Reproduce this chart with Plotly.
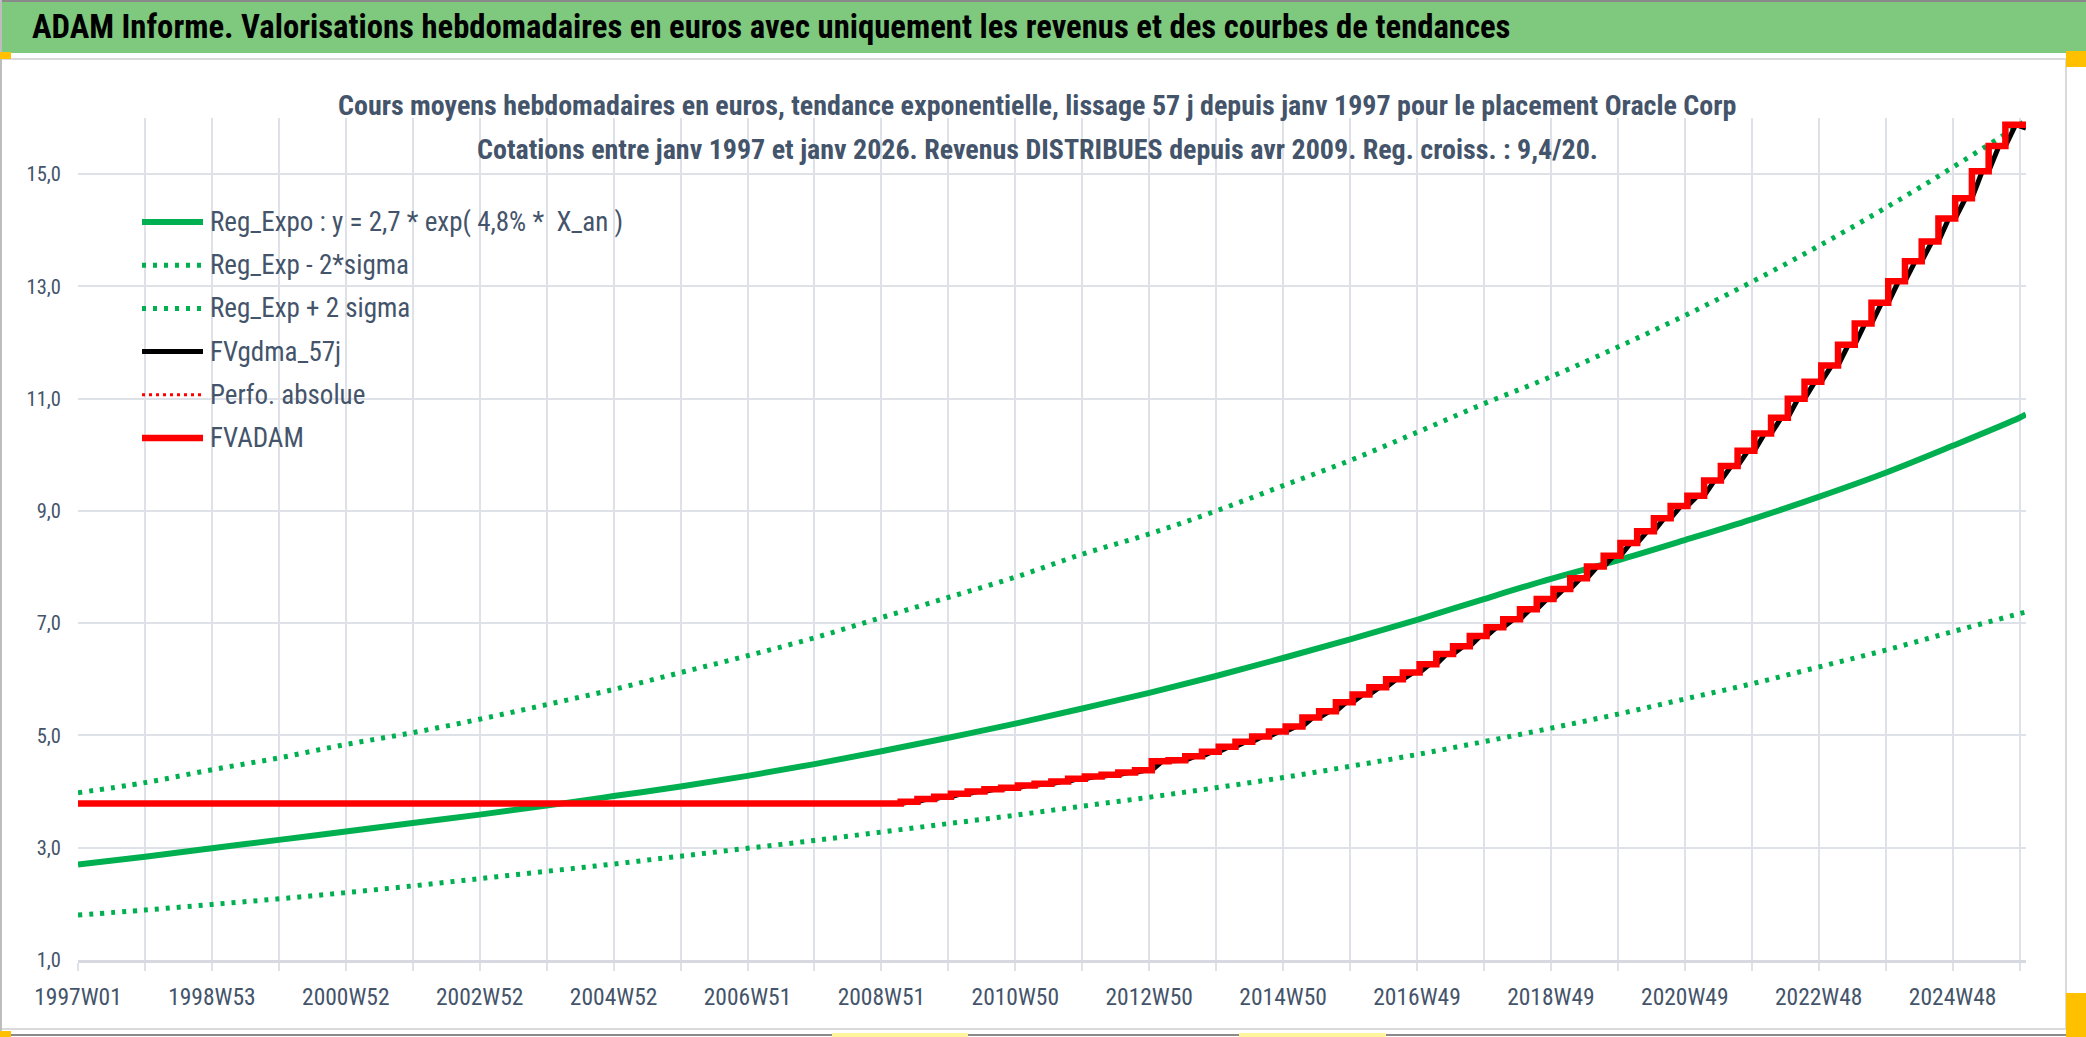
import pandas as pd
import plotly.graph_objects as go

# weekly category axis: ISO weeks from 1997W01 to 2026W01
N_WEEKS = 1514
FIRST_MONDAY = "1996-12-30"

TICK_LABELS = ["1997W01", "1998W53", "2000W52", "2002W52", "2004W52", "2006W51",
               "2008W51", "2010W50", "2012W50", "2014W50", "2016W49", "2018W49",
               "2020W49", "2022W48", "2024W48"]

# trend curves, read every 52 weeks (last value = final week)
REG_EXPO = [2.70, 2.84, 2.99, 3.14, 3.29, 3.44, 3.59, 3.75, 3.92, 4.09, 4.28,
            4.49, 4.72, 4.96, 5.21, 5.48, 5.76, 6.06, 6.38, 6.71, 7.06, 7.43,
            7.79, 8.12, 8.48, 8.85, 9.25, 9.68, 10.16, 10.66, 10.72]
REG_EXP_MINUS = [1.80, 1.89, 1.99, 2.09, 2.20, 2.32, 2.45, 2.58, 2.71, 2.85, 2.99,
                 3.13, 3.28, 3.43, 3.58, 3.74, 3.90, 4.07, 4.25, 4.45, 4.66, 4.89,
                 5.13, 5.38, 5.65, 5.92, 6.22, 6.52, 6.85, 7.17, 7.20]
REG_EXP_PLUS = [3.98, 4.16, 4.39, 4.60, 4.84, 5.05, 5.29, 5.55, 5.82, 6.12, 6.42,
                6.74, 7.10, 7.46, 7.82, 8.23, 8.59, 9.00, 9.45, 9.90, 10.40, 10.91,
                11.39, 11.92, 12.48, 13.08, 13.72, 14.40, 15.12, 15.88, 15.96]

# FVADAM: flat value before revenues, then one step per quarter
FVADAM_BEFORE = 3.79
FVADAM_FIRST_STEP = "2009W14"
FVADAM_STEPS = [3.82, 3.87, 3.91, 3.96, 4.00, 4.04, 4.07, 4.11, 4.14, 4.18,
                4.23, 4.27, 4.30, 4.34, 4.38, 4.54, 4.56, 4.63, 4.71, 4.80,
                4.89, 4.98, 5.07, 5.16, 5.32, 5.43, 5.59, 5.73, 5.86, 6.00,
                6.12, 6.27, 6.45, 6.59, 6.77, 6.93, 7.07, 7.25, 7.43, 7.61,
                7.80, 8.01, 8.20, 8.43, 8.64, 8.87, 9.09, 9.27, 9.54, 9.80,
                10.07, 10.38, 10.66, 11.00, 11.30, 11.59, 11.96, 12.34, 12.71, 13.09,
                13.45, 13.80, 14.21, 14.57, 15.05, 15.50, 15.88]

W, H = 2086, 1037
L, R, T, B = 78, 60, 118, 77
FONT = "Liberation Sans Narrow, Roboto Condensed, DejaVu Sans Condensed, Arial Narrow, sans-serif"
TEXT = "#44546A"
GRID = "#DEE2E8"
GREEN = "#00B050"
DOTS = "4px,7px"


def px(x):
    return (x - L) / (W - L - R)


def py(y):
    return (H - B - y) / (H - T - B)


starts = pd.date_range(FIRST_MONDAY, periods=N_WEEKS, freq="7D").isocalendar()
week_labels = [f"{y}W{w:02d}" for y, w in zip(starts.year, starts.week)]
last = N_WEEKS - 1

grid_weeks = list(range(0, N_WEEKS, 52))
label_pos = {week_labels.index(t): t for t in TICK_LABELS}
tick_text = [label_pos.get(g, "") for g in grid_weeks]
trend_x = grid_weeks + [last]

q0 = week_labels.index(FVADAM_FIRST_STEP)
step_x = [q0 + 13 * k for k in range(len(FVADAM_STEPS))]
red_x = [0] + step_x + [last]
red_y = [FVADAM_BEFORE] + FVADAM_STEPS + [FVADAM_STEPS[-1]]

# 57-day smoothing lags each step by a few weeks
blk_x, blk_y = [0], [FVADAM_BEFORE]
prev = FVADAM_BEFORE
for x, v in zip(step_x, FVADAM_STEPS):
    blk_x += [x, x + 8]
    blk_y += [prev, v]
    prev = v
blk_x.append(last)
blk_y.append(prev - 0.06)

fig = go.Figure()
fig.add_trace(go.Scatter(x=trend_x, y=REG_EXPO, mode="lines", line=dict(color=GREEN, width=6, shape="spline")))
fig.add_trace(go.Scatter(x=trend_x, y=REG_EXP_MINUS, mode="lines",
                         line=dict(color=GREEN, width=5, dash=DOTS, shape="spline")))
fig.add_trace(go.Scatter(x=trend_x, y=REG_EXP_PLUS, mode="lines",
                         line=dict(color=GREEN, width=5, dash=DOTS, shape="spline")))
fig.add_trace(go.Scatter(x=blk_x, y=blk_y, mode="lines", line=dict(color="black", width=5)))
fig.add_trace(go.Scatter(x=red_x, y=red_y, mode="lines", line=dict(color="red", width=3, dash="3px,4px", shape="hv")))
fig.add_trace(go.Scatter(x=red_x, y=red_y, mode="lines", line=dict(color="red", width=6.5, shape="hv")))

shapes = [
    # banner + frame
    dict(type="rect", x0=px(0), x1=px(W), y0=py(53), y1=py(0), fillcolor="#7EC97E", line_width=0),
    dict(type="line", x0=px(0), x1=px(W), y0=py(1), y1=py(1), line=dict(color="#8A8A8A", width=2)),
    dict(type="line", x0=px(0), x1=px(2066), y0=py(59), y1=py(59), line=dict(color="#DADADA", width=2)),
    dict(type="line", x0=px(0), x1=px(2066), y0=py(1029), y1=py(1029), line=dict(color="#DADADA", width=2)),
    dict(type="line", x0=px(0), x1=px(W), y0=py(1035), y1=py(1035), line=dict(color="#8A8A8A", width=2)),
    dict(type="line", x0=px(2066), x1=px(2066), y0=py(59), y1=py(1029), line=dict(color="#DADADA", width=2)),
    dict(type="line", x0=px(1), x1=px(1), y0=py(0), y1=py(1037), line=dict(color="#BDBDBD", width=2)),
    dict(type="rect", x0=px(0), x1=px(11), y0=py(59), y1=py(52), fillcolor="#FFC000", line_width=0),
    dict(type="rect", x0=px(0), x1=px(11), y0=py(1037), y1=py(1031), fillcolor="#FFC000", line_width=0),
    dict(type="rect", x0=px(2066), x1=px(W), y0=py(67), y1=py(51), fillcolor="#FFC000", line_width=0),
    dict(type="rect", x0=px(2066), x1=px(W), y0=py(1037), y1=py(993), fillcolor="#FFC000", line_width=0),
    dict(type="rect", x0=px(832), x1=px(968), y0=py(1037), y1=py(1033), fillcolor="#FFF59D", line_width=0),
    dict(type="rect", x0=px(1239), x1=px(1386), y0=py(1037), y1=py(1033), fillcolor="#FFF59D", line_width=0),
]

legend = [
    ("Reg_Expo : y = 2,7 * exp( 4,8% *  X_an )", GREEN, 6, "solid"),
    ("Reg_Exp - 2*sigma", GREEN, 5, DOTS),
    ("Reg_Exp + 2 sigma", GREEN, 5, DOTS),
    ("FVgdma_57j", "black", 5, "solid"),
    ("Perfo. absolue", "red", 3, "3px,4px"),
    ("FVADAM", "red", 6.5, "solid"),
]
annotations = [
    dict(text="ADAM Informe. Valorisations hebdomadaires en euros avec uniquement les revenus et des courbes de tendances",
         x=px(30), y=py(27), xanchor="left", yanchor="middle",
         font=dict(size=32.7, color="black", family=FONT, weight="bold")),
    dict(text="Cours moyens hebdomadaires en euros, tendance exponentielle, lissage 57 j depuis janv 1997 pour le placement Oracle Corp",
         x=px(1037), y=py(106), xanchor="center", yanchor="middle",
         font=dict(size=28, color=TEXT, weight="bold")),
    dict(text="Cotations entre janv 1997 et janv 2026. Revenus DISTRIBUES depuis avr 2009. Reg. croiss. : 9,4/20.",
         x=px(1037), y=py(149), xanchor="center", yanchor="middle",
         font=dict(size=28, color=TEXT, weight="bold")),
]
for i, (name, color, width, dash) in enumerate(legend):
    yy = py(222 + 43.2 * i)
    shapes.append(dict(type="line", x0=px(142), x1=px(203), y0=yy, y1=yy,
                       line=dict(color=color, width=width, dash=dash)))
    annotations.append(dict(text=name, x=px(208), y=yy, xanchor="left", yanchor="middle",
                            font=dict(size=27, color=TEXT)))

for a in annotations:
    a.update(xref="paper", yref="paper", showarrow=False)
for s in shapes:
    s.update(xref="paper", yref="paper")

fig.update_layout(
    width=W, height=H,
    margin=dict(l=L, r=R, t=T, b=B),
    paper_bgcolor="white", plot_bgcolor="white",
    separators=", ",
    showlegend=False,
    font=dict(family=FONT, color=TEXT),
    shapes=shapes,
    annotations=annotations,
    xaxis=dict(range=[0, last], tickmode="array", tickvals=grid_weeks, ticktext=tick_text,
               showgrid=True, gridcolor=GRID, gridwidth=2, zeroline=False,
               showline=True, linecolor="#D6DAE0", linewidth=3,
               ticks="outside", ticklen=8, tickcolor=GRID, tickwidth=2, tickangle=0,
               ticklabelstandoff=6, tickfont=dict(size=23.5, color=TEXT)),
    yaxis=dict(range=[1, 16], tickmode="array", tickvals=list(range(1, 16, 2)), tickformat=".1f",
               showgrid=True, gridcolor=GRID, gridwidth=2, zeroline=False, showline=False,
               ticks="", ticklabelstandoff=16, tickfont=dict(size=20.5, color=TEXT)),
)

# page body has a default 8px margin; drop it so the figure sits at the window corner
fig.write_html("out.html", config={"displayModeBar": False},
               post_script="document.body.style.margin='0px';")
